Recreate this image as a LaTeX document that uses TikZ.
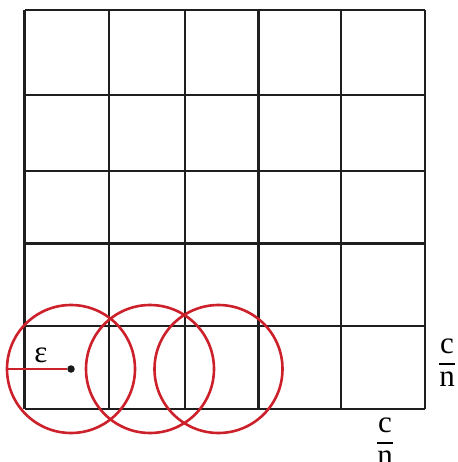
\documentclass[tikz,border=0pt]{standalone}
\usepackage{amsmath}
\usepackage{fontspec}
\setmainfont{Liberation Serif}
\usetikzlibrary{calc}
\definecolor{ballred}{RGB}{204,32,42}

\begin{document}
\begin{tikzpicture}[x=1pt, y=-1pt,
		gridline/.style={line width=2.9pt, color=black!88},
		ball/.style={line width=2.6pt, color=ballred},
		lbl/.style={inner sep=0pt, font=\fontsize{31}{34}\selectfont}]

		% === figure bounds ===
		\useasboundingbox (0,0) rectangle (457,462);
		\def\xlines{24.5, 109, 185, 258.5, 341, 425}
		\def\ylines{10, 95, 171, 243.5, 326, 409}
		\def\rad{64}

		% === Grid ===
		\foreach \x in \xlines {
			\draw[gridline] (\x,10) -- (\x,409);		% columns
		}
		\foreach \y in \ylines {
			\draw[gridline] (24.5,\y) -- (425,\y);		% rows
		}

		% === Balls ===
		\foreach \cx in {71, 150, 218.5} {
			\draw[ball] (\cx,369) circle (\rad);
		}

		% === Radius ===
		\node[circle, fill=black!90, inner sep=0pt, minimum size=7.5pt] (ctr) at (71,369) {};
		\coordinate (rim) at (71-\rad,369);
		\draw[ball] (rim) -- (ctr);
		\node[lbl] (eps) at (41,355) {ε};

		% === Side lengths ===
		\node[lbl] (sideR) at (447,362.7) {$\genfrac{}{}{2pt}{0}{\text{c}}{\text{n}}$};
		\node[lbl] (sideB) at (385,441.7) {$\genfrac{}{}{2pt}{0}{\text{c}}{\text{n}}$};
	\end{tikzpicture}
\end{document}
